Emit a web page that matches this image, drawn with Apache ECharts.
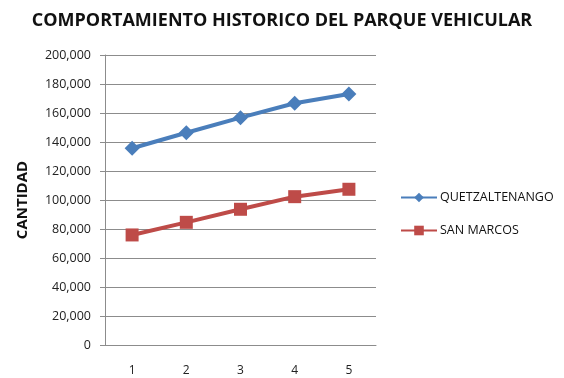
<!DOCTYPE html>
<html>
<head>
<meta charset="utf-8">
<script src="https://cdn.jsdelivr.net/npm/echarts@6/dist/echarts.min.js"></script>
<style>
  html, body { margin: 0; padding: 0; background: #fff; }
  #chart { width: 564px; height: 378px; }
</style>
</head>
<body>
<div id="chart"></div>
<script>
// Vehicle fleet by department, periods 1-5
const periods = ['1', '2', '3', '4', '5'];
const quetzaltenango = [135700, 146400, 156800, 166700, 173100];
const sanMarcos = [75900, 84600, 93600, 102300, 107400];
const yMin = 0, yMax = 200000, yStep = 20000;

const fmt = v => v === 0 ? '0' : v.toLocaleString('en-US');
const font = '"Open Sans", sans-serif';

const chart = echarts.init(document.getElementById('chart'));
chart.setOption({
  animation: false,
  title: {
    text: 'COMPORTAMIENTO HISTORICO DEL PARQUE VEHICULAR',
    left: 'center',
    top: 7,
    textStyle: { fontFamily: font, fontWeight: 'bold', fontSize: 18, color: '#111' }
  },
  legend: {
    orient: 'vertical',
    left: 395,
    top: 186,
    itemGap: 20,
    itemWidth: 36,
    itemHeight: 12,
    textStyle: { fontFamily: font, fontSize: 12.5, color: '#111', padding: [0, 0, 0, -2] },
    data: ['QUETZALTENANGO', 'SAN MARCOS']
  },
  grid: { left: 105, top: 55, width: 271, height: 290 },
  xAxis: {
    type: 'category',
    data: periods,
    boundaryGap: true,
    axisLine: { lineStyle: { color: '#8c8c8c', width: 1 } },
    axisTick: { show: false },
    axisLabel: { fontFamily: font, fontSize: 12, color: '#222', margin: 20 }
  },
  yAxis: {
    type: 'value',
    min: yMin, max: yMax, interval: yStep,
    name: 'CANTIDAD',
    nameLocation: 'middle',
    nameGap: 75,
    nameTextStyle: { fontFamily: font, fontWeight: 'bold', fontSize: 15, color: '#111' },
    axisLine: { show: true, lineStyle: { color: '#8c8c8c', width: 1 } },
    axisTick: { show: true, length: 5, lineStyle: { color: '#8c8c8c' } },
    splitLine: { lineStyle: { color: '#8c8c8c', width: 1 } },
    axisLabel: { fontFamily: font, fontSize: 12.5, color: '#222', margin: 14, formatter: fmt }
  },
  series: [
    {
      name: 'QUETZALTENANGO',
      type: 'line',
      data: quetzaltenango,
      symbol: 'diamond',
      symbolSize: 15,
      lineStyle: { color: '#4a7ebb', width: 4 },
      itemStyle: { color: '#4a7ebb' }
    },
    {
      name: 'SAN MARCOS',
      type: 'line',
      data: sanMarcos,
      symbol: 'rect',
      symbolSize: 13,
      lineStyle: { color: '#be4b48', width: 4 },
      itemStyle: { color: '#be4b48' }
    }
  ]
});
</script>
</body>
</html>
